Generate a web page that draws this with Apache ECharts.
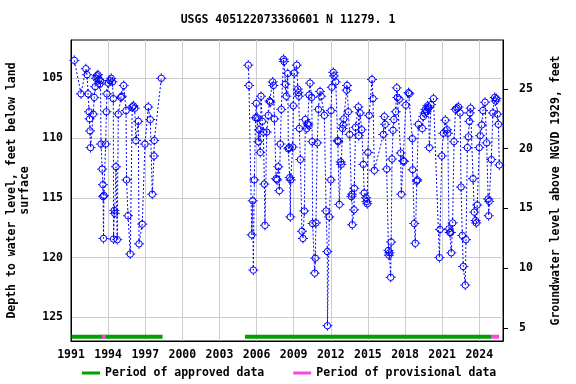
<!DOCTYPE html>
<html>
<head>
<meta charset="utf-8">
<script src="https://cdn.jsdelivr.net/npm/echarts@6/dist/echarts.min.js"></script>
<style>html,body{margin:0;padding:0;background:#fff;}#c{width:576px;height:384px;}</style>
</head>
<body>
<div id="c"></div>
<script>
// ---- data (decimal year, depth to water in feet below land surface) ----
const earlyYears = [1991.27,1991.81,1992.20,1992.30,1992.38,1992.46,1992.50,1992.54,1992.58,1992.80,1992.88,1992.95,1993.02,1993.10,1993.18,1993.25,1993.32,1993.38,1993.43,1993.52,1993.58,1993.60,1993.63,1993.66,1993.80,1993.86,1993.90,1994.02,1994.15,1994.25,1994.35,1994.42,1994.44,1994.50,1994.53,1994.64,1994.74,1994.82,1995.04,1995.10,1995.26,1995.45,1995.49,1995.61,1995.79,1995.95,1996.05,1996.15,1996.25,1996.44,1996.50,1996.76,1996.98,1997.25,1997.41,1997.57,1997.71,1997.73,1998.30];
const earlyDepths = [103.5,106.3,104.2,104.7,106.3,107.8,108.4,109.4,110.8,108.0,106.6,105.7,105.0,104.8,104.7,105.1,105.5,105.2,110.5,112.6,113.9,114.9,118.4,114.8,110.5,107.8,106.3,105.4,105.2,105.0,105.3,106.7,118.45,116.05,116.3,112.4,118.5,108.0,106.6,106.5,105.6,107.7,113.5,116.5,119.7,107.4,107.3,107.5,110.2,108.6,118.85,117.2,110.5,107.4,108.45,114.7,111.5,110.2,105.0];

const lateYears = [2005.33,2005.39,2005.61,2005.69,2005.74,2005.82,2005.92,2005.98,2006.05,2006.15,2006.20,2006.30,2006.36,2006.46,2006.55,2006.63,2006.68,2006.82,2006.95,2007.05,2007.12,2007.30,2007.36,2007.44,2007.58,2007.66,2007.76,2007.84,2007.92,2008.00,2008.18,2008.22,2008.33,2008.40,2008.52,2008.57,2008.63,2008.68,2008.73,2008.76,2008.92,2008.97,2009.05,2009.25,2009.33,2009.38,2009.42,2009.46,2009.54,2009.67,2009.75,2009.86,2009.94,2010.05,2010.12,2010.18,2010.25,2010.32,2010.46,2010.50,2010.53,2010.70,2010.75,2010.80,2010.91,2011.00,2011.13,2011.22,2011.48,2011.62,2011.72,2011.73,2011.88,2012.00,2012.02,2012.08,2012.20,2012.26,2012.40,2012.56,2012.60,2012.69,2012.80,2012.85,2012.95,2013.00,2013.05,2013.28,2013.32,2013.42,2013.53,2013.67,2013.71,2013.74,2013.88,2013.90,2014.00,2014.23,2014.26,2014.36,2014.50,2014.63,2014.70,2014.85,2014.90,2014.95,2015.00,2015.10,2015.33,2015.41,2015.52,2016.25,2016.33,2016.40,2016.52,2016.66,2016.70,2016.74,2016.84,2016.88,2016.95,2017.03,2017.10,2017.25,2017.33,2017.38,2017.54,2017.65,2017.70,2017.85,2017.92,2018.06,2018.28,2018.35,2018.59,2018.62,2018.75,2018.83,2018.95,2018.99,2019.08,2019.40,2019.48,2019.58,2019.66,2019.74,2019.82,2019.90,2019.97,2020.10,2020.30,2020.78,2020.83,2020.97,2021.10,2021.26,2021.40,2021.46,2021.55,2021.62,2021.70,2021.74,2021.85,2021.96,2022.08,2022.20,2022.32,2022.45,2022.53,2022.63,2022.71,2022.87,2022.93,2023.04,2023.12,2023.20,2023.25,2023.30,2023.50,2023.60,2023.70,2023.76,2023.84,2024.00,2024.08,2024.20,2024.30,2024.47,2024.60,2024.72,2024.76,2024.80,2024.98,2025.10,2025.25,2025.32,2025.38,2025.46,2025.55,2025.62];
const lateDepths = [103.9,105.6,118.1,115.25,121.05,113.5,108.3,107.1,108.3,110.3,109.3,111.2,106.5,108.6,109.5,113.85,117.3,109.5,108.1,106.9,107.0,105.3,105.6,108.4,113.4,113.5,112.4,114.4,110.5,107.6,103.4,103.6,105.5,106.5,104.6,110.9,110.8,113.3,116.6,113.5,110.75,107.3,104.55,103.9,105.9,106.2,106.5,109.2,111.8,117.8,118.4,116.1,108.45,109.2,108.8,108.9,106.4,105.4,106.6,110.3,117.15,121.3,120.05,117.1,110.4,107.6,106.1,106.5,108.1,116.1,119.5,125.7,116.6,113.5,107.7,105.75,104.5,104.8,105.3,110.2,110.3,115.55,112.0,112.2,109.2,108.9,108.4,106.0,105.6,107.8,109.7,114.9,114.7,117.25,116.0,114.2,109.1,107.4,109.8,107.9,109.3,112.2,114.6,115.0,115.3,115.5,111.2,108.1,105.1,106.7,112.7,109.7,108.2,108.85,112.6,119.4,119.8,119.6,121.65,118.7,111.75,109.35,108.45,107.8,105.8,106.6,106.75,111.25,114.7,111.9,111.95,107.25,106.2,106.3,110.05,112.65,117.15,118.8,113.6,113.5,108.85,109.2,108.2,107.9,107.6,107.8,107.3,107.5,110.8,107.2,106.7,120.0,117.65,111.5,109.6,108.5,109.3,109.6,117.6,117.9,117.9,119.6,117.1,110.3,107.6,107.5,107.4,107.9,114.1,118.15,120.75,122.3,118.5,110.8,109.9,108.6,107.9,107.5,113.4,116.2,116.9,117.1,115.6,110.8,109.8,108.9,107.7,107.0,110.4,115.1,116.5,115.3,111.8,107.9,106.6,106.9,106.7,108.0,108.85,112.25];

// approval periods (decimal years)
const approvedPeriods = [[1991.05, 1998.40], [2005.07, 2024.95]];
const provisionalPeriods = [[1993.50, 1993.80], [2024.95, 2025.60]];
const periodBarDepth = 126.62;

const xTickStart = 1991, xTickStep = 3;
const leftTicks = [105, 110, 115, 120, 125];
const rightTicks = [5, 10, 15, 20, 25];
const datumOffset = 130.88; // right axis value = datumOffset - depth

const depthTop = 101.795, depthBottom = 126.98;
const xMin = 1991, xMax = 2025.92;

const FONT = 'DejaVu Sans Mono';
const txt = {fontFamily: FONT, fontWeight: 'bold', fontSize: 11.5, color: '#000'};

function pairs(xs, ys) { return xs.map((x, i) => [x, ys[i]]); }

const markerPath = 'path://M5,0 L5,1.8 M5,8.2 L5,10 M0,5 L1.8,5 M8.2,5 L10,5 M8.2,5 A3.2,3.2 0 1,1 1.8,5 A3.2,3.2 0 1,1 8.2,5 Z';

function obsSeries(data) {
  return {
    type: 'line', yAxisIndex: 0, data: data,
    symbol: markerPath, symbolSize: 10, showAllSymbol: true,
    itemStyle: {color: 'rgba(0,0,0,0)', borderColor: '#0000ff', borderWidth: 1},
    lineStyle: {color: '#0000ff', width: 1, type: [2, 2]},
    emphasis: {disabled: true}, silent: true, z: 3
  };
}
function barSeries(name, color, period) {
  return {
    name: name, type: 'line', yAxisIndex: 0,
    data: [[period[0], periodBarDepth], [period[1], periodBarDepth]],
    symbol: 'none', itemStyle: {color: color},
    lineStyle: {color: color, width: 4, cap: 'butt'}, silent: true, z: 4
  };
}

const series = [obsSeries(pairs(earlyYears, earlyDepths)), obsSeries(pairs(lateYears, lateDepths))];
approvedPeriods.forEach(p => series.push(barSeries('Period of approved data', '#00a000', p)));
provisionalPeriods.forEach(p => series.push(barSeries('Period of provisional data', '#ff44dd', p)));

const chart = echarts.init(document.getElementById('c'), null, {renderer: 'canvas'});
chart.setOption({
  animation: false,
  backgroundColor: '#fff',
  title: {text: 'USGS 405122073360601 N 11279. 1', left: 'center', top: 9, textStyle: txt},
  grid: {left: 71, right: 73, top: 40, bottom: 43, containLabel: false, outerBoundsMode: 'none',
         show: true, borderColor: '#000', borderWidth: 1, backgroundColor: 'transparent'},
  legend: {
    data: ['Period of approved data', 'Period of provisional data'],
    left: 77, top: 362, icon: 'rect', itemWidth: 18, itemHeight: 3, itemGap: 29,
    textStyle: txt, selectedMode: false
  },
  xAxis: {
    type: 'value', min: xMin, max: xMax, interval: xTickStep,
    axisLine: {show: true, lineStyle: {color: '#000'}},
    axisTick: {show: false},
    splitLine: {show: true, showMinLine: false, showMaxLine: false, lineStyle: {color: '#cccccc', width: 1}},
    axisLabel: Object.assign({margin: 8, formatter: v => (Math.abs((v - xTickStart) / xTickStep - Math.round((v - xTickStart) / xTickStep)) < 1e-6 ? String(Math.round(v)) : '')}, txt)
  },
  yAxis: [
    {
      type: 'value', inverse: true, min: depthTop, max: depthBottom, splitNumber: 5,
      position: 'left',
      name: 'Depth to water level, feet below land\nsurface',
      nameLocation: 'middle', nameRotate: 90, nameGap: 39,
      nameTextStyle: Object.assign({lineHeight: 13, align: 'center'}, txt),
      axisLine: {show: true, lineStyle: {color: '#000'}},
      axisTick: {show: false},
      splitLine: {show: true, showMinLine: false, showMaxLine: false, lineStyle: {color: '#cccccc', width: 1}},
      axisLabel: Object.assign({margin: 8, customValues: leftTicks}, txt)
    },
    {
      type: 'value', min: datumOffset - depthBottom, max: datumOffset - depthTop,
      position: 'right',
      name: 'Groundwater level above NGVD 1929, feet',
      nameLocation: 'middle', nameRotate: 90, nameGap: 47,
      nameTextStyle: txt,
      axisLine: {show: true, lineStyle: {color: '#000'}},
      axisTick: {show: true, inside: false, length: 5, customValues: rightTicks, lineStyle: {color: '#000'}},
      splitLine: {show: false},
      axisLabel: Object.assign({margin: 16, customValues: rightTicks}, txt)
    }
  ],
  series: series
});
</script>
</body>
</html>
